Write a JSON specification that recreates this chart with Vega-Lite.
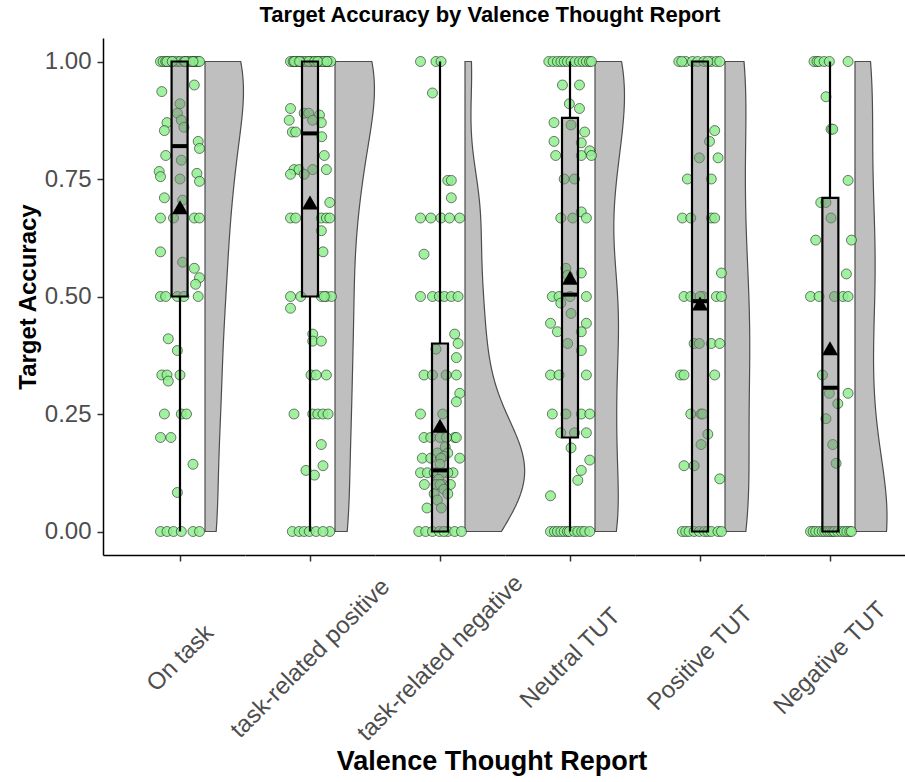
{
"$schema": "https://vega.github.io/schema/vega-lite/v6.json",
"padding": {"left": 16, "top": 4, "right": 0, "bottom": 0},
"config": {"font": "Liberation Sans", "view": {"stroke": null}, "axis": {"grid": false}},
"datasets": {
"pts": [
{"c":"On task","v":1,"j":-0.15},{"c":"On task","v":1,"j":-0.13},{"c":"On task","v":1,"j":-0.11},{"c":"On task","v":1,"j":-0.08},{"c":"On task","v":1,"j":-0.05},{"c":"On task","v":1,"j":-0.02},{"c":"On task","v":1,"j":0.0},{"c":"On task","v":1,"j":0.03},{"c":"On task","v":1,"j":0.05},{"c":"On task","v":1,"j":0.07},{"c":"On task","v":1,"j":0.09},{"c":"On task","v":1,"j":0.11},{"c":"On task","v":1,"j":0.12},{"c":"On task","v":1,"j":0.14},{"c":"On task","v":1,"j":0.15},{"c":"On task","v":1,"j":-0.1},{"c":"On task","v":1,"j":-0.06},{"c":"On task","v":1,"j":0.04},{"c":"On task","v":1,"j":0.1},
{"c":"On task","v":0.95,"j":0.11},{"c":"On task","v":0.936,"j":-0.14},{"c":"On task","v":0.91,"j":0.0},{"c":"On task","v":0.89,"j":-0.02},{"c":"On task","v":0.875,"j":0.01},{"c":"On task","v":0.86,"j":0.03},{"c":"On task","v":0.87,"j":-0.1},{"c":"On task","v":0.853,"j":-0.12},{"c":"On task","v":0.83,"j":0.14},{"c":"On task","v":0.815,"j":0.15},{"c":"On task","v":0.8,"j":-0.11},{"c":"On task","v":0.79,"j":0.01},{"c":"On task","v":0.766,"j":-0.16},{"c":"On task","v":0.755,"j":-0.15},{"c":"On task","v":0.762,"j":0.13},{"c":"On task","v":0.745,"j":0.15},{"c":"On task","v":0.75,"j":0.0},{"c":"On task","v":0.71,"j":-0.12},{"c":"On task","v":0.705,"j":0.02},
{"c":"On task","v":0.667,"j":-0.15},{"c":"On task","v":0.667,"j":-0.05},{"c":"On task","v":0.667,"j":0.11},{"c":"On task","v":0.667,"j":0.15},{"c":"On task","v":0.595,"j":-0.15},{"c":"On task","v":0.573,"j":0.02},{"c":"On task","v":0.56,"j":0.11},{"c":"On task","v":0.54,"j":0.15},{"c":"On task","v":0.526,"j":0.12},
{"c":"On task","v":0.5,"j":-0.15},{"c":"On task","v":0.5,"j":-0.11},{"c":"On task","v":0.5,"j":-0.02},{"c":"On task","v":0.5,"j":0.03},{"c":"On task","v":0.5,"j":0.14},
{"c":"On task","v":0.41,"j":-0.09},{"c":"On task","v":0.385,"j":-0.02},{"c":"On task","v":0.333,"j":-0.14},{"c":"On task","v":0.333,"j":-0.1},{"c":"On task","v":0.333,"j":0.0},{"c":"On task","v":0.32,"j":-0.09},
{"c":"On task","v":0.25,"j":-0.12},{"c":"On task","v":0.25,"j":0.01},{"c":"On task","v":0.25,"j":0.05},{"c":"On task","v":0.2,"j":-0.15},{"c":"On task","v":0.2,"j":-0.07},{"c":"On task","v":0.143,"j":0.1},{"c":"On task","v":0.083,"j":-0.02},
{"c":"On task","v":0,"j":-0.15},{"c":"On task","v":0,"j":-0.1},{"c":"On task","v":0,"j":-0.05},{"c":"On task","v":0,"j":0.01},{"c":"On task","v":0,"j":0.1},{"c":"On task","v":0,"j":0.15},

{"c":"task-related positive","v":1,"j":-0.15},{"c":"task-related positive","v":1,"j":-0.13},{"c":"task-related positive","v":1,"j":-0.11},{"c":"task-related positive","v":1,"j":-0.09},{"c":"task-related positive","v":1,"j":-0.07},{"c":"task-related positive","v":1,"j":-0.05},{"c":"task-related positive","v":1,"j":-0.03},{"c":"task-related positive","v":1,"j":0.0},{"c":"task-related positive","v":1,"j":0.02},{"c":"task-related positive","v":1,"j":0.05},{"c":"task-related positive","v":1,"j":0.07},{"c":"task-related positive","v":1,"j":0.09},{"c":"task-related positive","v":1,"j":0.12},{"c":"task-related positive","v":1,"j":0.14},{"c":"task-related positive","v":1,"j":0.16},{"c":"task-related positive","v":1,"j":-0.01},{"c":"task-related positive","v":1,"j":0.035},{"c":"task-related positive","v":1,"j":-0.12},{"c":"task-related positive","v":1,"j":0.105},{"c":"task-related positive","v":1,"j":-0.08},{"c":"task-related positive","v":1,"j":0.06},{"c":"task-related positive","v":1,"j":0.13},
{"c":"task-related positive","v":0.9,"j":-0.15},{"c":"task-related positive","v":0.89,"j":-0.045},{"c":"task-related positive","v":0.886,"j":0.073},{"c":"task-related positive","v":0.875,"j":-0.16},{"c":"task-related positive","v":0.87,"j":0.087},{"c":"task-related positive","v":0.85,"j":-0.136},{"c":"task-related positive","v":0.85,"j":-0.11},{"c":"task-related positive","v":0.84,"j":0.09},{"c":"task-related positive","v":0.89,"j":-0.01},{"c":"task-related positive","v":0.875,"j":0.02},
{"c":"task-related positive","v":0.8,"j":0.11},{"c":"task-related positive","v":0.77,"j":-0.123},{"c":"task-related positive","v":0.77,"j":-0.084},{"c":"task-related positive","v":0.77,"j":0.021},{"c":"task-related positive","v":0.77,"j":0.126},{"c":"task-related positive","v":0.76,"j":-0.15},{"c":"task-related positive","v":0.76,"j":-0.045},{"c":"task-related positive","v":0.7,"j":0.152},
{"c":"task-related positive","v":0.667,"j":-0.15},{"c":"task-related positive","v":0.667,"j":-0.11},{"c":"task-related positive","v":0.667,"j":0.087},{"c":"task-related positive","v":0.667,"j":0.126},{"c":"task-related positive","v":0.667,"j":0.152},{"c":"task-related positive","v":0.64,"j":0.087},{"c":"task-related positive","v":0.595,"j":0.1},
{"c":"task-related positive","v":0.5,"j":-0.15},{"c":"task-related positive","v":0.5,"j":-0.071},{"c":"task-related positive","v":0.5,"j":0.087},{"c":"task-related positive","v":0.5,"j":0.126},{"c":"task-related positive","v":0.5,"j":0.165},{"c":"task-related positive","v":0.5,"j":0.11},{"c":"task-related positive","v":0.475,"j":-0.15},
{"c":"task-related positive","v":0.42,"j":0.021},{"c":"task-related positive","v":0.405,"j":0.021},{"c":"task-related positive","v":0.405,"j":0.087},{"c":"task-related positive","v":0.333,"j":0.008},{"c":"task-related positive","v":0.333,"j":0.047},{"c":"task-related positive","v":0.333,"j":0.126},
{"c":"task-related positive","v":0.25,"j":-0.123},{"c":"task-related positive","v":0.25,"j":0.021},{"c":"task-related positive","v":0.25,"j":0.06},{"c":"task-related positive","v":0.25,"j":0.1},{"c":"task-related positive","v":0.25,"j":0.139},{"c":"task-related positive","v":0.185,"j":0.087},{"c":"task-related positive","v":0.14,"j":0.1},{"c":"task-related positive","v":0.13,"j":-0.031},{"c":"task-related positive","v":0.12,"j":0.034},
{"c":"task-related positive","v":0,"j":-0.136},{"c":"task-related positive","v":0,"j":-0.084},{"c":"task-related positive","v":0,"j":-0.045},{"c":"task-related positive","v":0,"j":-0.005},{"c":"task-related positive","v":0,"j":0.047},{"c":"task-related positive","v":0,"j":0.152},{"c":"task-related positive","v":0,"j":0.1},

{"c":"task-related negative","v":1,"j":-0.15},{"c":"task-related negative","v":1,"j":-0.031},{"c":"task-related negative","v":1,"j":0.008},{"c":"task-related negative","v":0.933,"j":-0.058},
{"c":"task-related negative","v":0.747,"j":0.06},{"c":"task-related negative","v":0.747,"j":0.087},{"c":"task-related negative","v":0.71,"j":0.087},
{"c":"task-related negative","v":0.667,"j":-0.15},{"c":"task-related negative","v":0.667,"j":-0.071},{"c":"task-related negative","v":0.667,"j":0.008},{"c":"task-related negative","v":0.667,"j":0.073},{"c":"task-related negative","v":0.667,"j":0.152},{"c":"task-related negative","v":0.59,"j":-0.123},
{"c":"task-related negative","v":0.5,"j":-0.15},{"c":"task-related negative","v":0.5,"j":-0.058},{"c":"task-related negative","v":0.5,"j":-0.005},{"c":"task-related negative","v":0.5,"j":0.034},{"c":"task-related negative","v":0.5,"j":0.087},{"c":"task-related negative","v":0.5,"j":0.139},
{"c":"task-related negative","v":0.42,"j":0.113},{"c":"task-related negative","v":0.4,"j":0.139},{"c":"task-related negative","v":0.388,"j":-0.031},{"c":"task-related negative","v":0.37,"j":0.126},
{"c":"task-related negative","v":0.333,"j":-0.123},{"c":"task-related negative","v":0.333,"j":-0.058},{"c":"task-related negative","v":0.333,"j":0.047},{"c":"task-related negative","v":0.333,"j":0.126},{"c":"task-related negative","v":0.294,"j":0.152},{"c":"task-related negative","v":0.276,"j":0.126},
{"c":"task-related negative","v":0.25,"j":-0.15},{"c":"task-related negative","v":0.25,"j":0.021},
{"c":"task-related negative","v":0.2,"j":-0.123},{"c":"task-related negative","v":0.2,"j":-0.071},{"c":"task-related negative","v":0.2,"j":0.113},{"c":"task-related negative","v":0.2,"j":0.126},{"c":"task-related negative","v":0.2,"j":0.0},{"c":"task-related negative","v":0.2,"j":0.05},{"c":"task-related negative","v":0.18,"j":0.04},
{"c":"task-related negative","v":0.167,"j":-0.02},{"c":"task-related negative","v":0.167,"j":0.06},{"c":"task-related negative","v":0.16,"j":0.03},
{"c":"task-related negative","v":0.156,"j":-0.136},{"c":"task-related negative","v":0.156,"j":-0.071},{"c":"task-related negative","v":0.156,"j":0.152},{"c":"task-related negative","v":0.156,"j":0.008},{"c":"task-related negative","v":0.143,"j":0.0},
{"c":"task-related negative","v":0.125,"j":-0.15},{"c":"task-related negative","v":0.125,"j":-0.097},{"c":"task-related negative","v":0.125,"j":-0.045},{"c":"task-related negative","v":0.125,"j":-0.018},{"c":"task-related negative","v":0.125,"j":0.1},{"c":"task-related negative","v":0.125,"j":0.06},{"c":"task-related negative","v":0.125,"j":0.02},{"c":"task-related negative","v":0.111,"j":-0.01},
{"c":"task-related negative","v":0.1,"j":-0.12},{"c":"task-related negative","v":0.1,"j":-0.03},{"c":"task-related negative","v":0.1,"j":0.02},{"c":"task-related negative","v":0.1,"j":0.08},{"c":"task-related negative","v":0.1,"j":0.0},{"c":"task-related negative","v":0.09,"j":0.03},
{"c":"task-related negative","v":0.08,"j":-0.045},{"c":"task-related negative","v":0.08,"j":0.06},{"c":"task-related negative","v":0.067,"j":-0.02},{"c":"task-related negative","v":0.05,"j":-0.1},{"c":"task-related negative","v":0.05,"j":0.01},
{"c":"task-related negative","v":0,"j":-0.163},{"c":"task-related negative","v":0,"j":-0.11},{"c":"task-related negative","v":0,"j":-0.058},{"c":"task-related negative","v":0,"j":-0.005},{"c":"task-related negative","v":0,"j":0.06},{"c":"task-related negative","v":0,"j":0.113},{"c":"task-related negative","v":0,"j":0.165},{"c":"task-related negative","v":0,"j":0.03},

{"c":"Neutral TUT","v":1,"j":-0.163},{"c":"Neutral TUT","v":1,"j":-0.13},{"c":"Neutral TUT","v":1,"j":-0.097},{"c":"Neutral TUT","v":1,"j":-0.07},{"c":"Neutral TUT","v":1,"j":-0.045},{"c":"Neutral TUT","v":1,"j":-0.02},{"c":"Neutral TUT","v":1,"j":0.008},{"c":"Neutral TUT","v":1,"j":0.04},{"c":"Neutral TUT","v":1,"j":0.073},{"c":"Neutral TUT","v":1,"j":0.1},{"c":"Neutral TUT","v":1,"j":0.126},{"c":"Neutral TUT","v":1,"j":0.15},{"c":"Neutral TUT","v":1,"j":0.165},
{"c":"Neutral TUT","v":0.95,"j":-0.058},{"c":"Neutral TUT","v":0.95,"j":0.073},{"c":"Neutral TUT","v":0.91,"j":-0.005},{"c":"Neutral TUT","v":0.9,"j":0.073},
{"c":"Neutral TUT","v":0.87,"j":-0.123},{"c":"Neutral TUT","v":0.865,"j":0.008},{"c":"Neutral TUT","v":0.85,"j":0.113},{"c":"Neutral TUT","v":0.83,"j":-0.123},{"c":"Neutral TUT","v":0.827,"j":0.087},
{"c":"Neutral TUT","v":0.8,"j":-0.11},{"c":"Neutral TUT","v":0.8,"j":0.087},{"c":"Neutral TUT","v":0.81,"j":0.152},{"c":"Neutral TUT","v":0.8,"j":0.165},{"c":"Neutral TUT","v":0.75,"j":-0.045},{"c":"Neutral TUT","v":0.75,"j":0.034},
{"c":"Neutral TUT","v":0.68,"j":0.087},{"c":"Neutral TUT","v":0.667,"j":-0.071},{"c":"Neutral TUT","v":0.667,"j":0.021},{"c":"Neutral TUT","v":0.667,"j":0.126},
{"c":"Neutral TUT","v":0.56,"j":-0.031},{"c":"Neutral TUT","v":0.55,"j":0.087},{"c":"Neutral TUT","v":0.545,"j":-0.018},
{"c":"Neutral TUT","v":0.5,"j":-0.136},{"c":"Neutral TUT","v":0.5,"j":-0.084},{"c":"Neutral TUT","v":0.5,"j":0.126},{"c":"Neutral TUT","v":0.5,"j":0.0},
{"c":"Neutral TUT","v":0.486,"j":-0.071},{"c":"Neutral TUT","v":0.464,"j":0.008},{"c":"Neutral TUT","v":0.443,"j":-0.15},{"c":"Neutral TUT","v":0.443,"j":0.126},{"c":"Neutral TUT","v":0.425,"j":-0.097},{"c":"Neutral TUT","v":0.425,"j":0.087},{"c":"Neutral TUT","v":0.4,"j":-0.018},{"c":"Neutral TUT","v":0.385,"j":0.087},
{"c":"Neutral TUT","v":0.333,"j":-0.15},{"c":"Neutral TUT","v":0.333,"j":-0.084},{"c":"Neutral TUT","v":0.333,"j":0.126},
{"c":"Neutral TUT","v":0.25,"j":-0.136},{"c":"Neutral TUT","v":0.25,"j":0.087},{"c":"Neutral TUT","v":0.25,"j":0.152},{"c":"Neutral TUT","v":0.25,"j":-0.031},
{"c":"Neutral TUT","v":0.21,"j":-0.071},{"c":"Neutral TUT","v":0.21,"j":0.034},{"c":"Neutral TUT","v":0.21,"j":0.126},{"c":"Neutral TUT","v":0.178,"j":0.008},
{"c":"Neutral TUT","v":0.152,"j":0.152},{"c":"Neutral TUT","v":0.13,"j":0.087},{"c":"Neutral TUT","v":0.109,"j":0.06},{"c":"Neutral TUT","v":0.076,"j":-0.15},
{"c":"Neutral TUT","v":0,"j":-0.15},{"c":"Neutral TUT","v":0,"j":-0.12},{"c":"Neutral TUT","v":0,"j":-0.097},{"c":"Neutral TUT","v":0,"j":-0.07},{"c":"Neutral TUT","v":0,"j":-0.045},{"c":"Neutral TUT","v":0,"j":-0.02},{"c":"Neutral TUT","v":0,"j":-0.005},{"c":"Neutral TUT","v":0,"j":0.034},{"c":"Neutral TUT","v":0,"j":0.06},{"c":"Neutral TUT","v":0,"j":0.09},{"c":"Neutral TUT","v":0,"j":0.113},{"c":"Neutral TUT","v":0,"j":0.152},

{"c":"Positive TUT","v":1,"j":-0.163},{"c":"Positive TUT","v":1,"j":-0.11},{"c":"Positive TUT","v":1,"j":-0.058},{"c":"Positive TUT","v":1,"j":-0.018},{"c":"Positive TUT","v":1,"j":0.03},{"c":"Positive TUT","v":1,"j":0.087},{"c":"Positive TUT","v":1,"j":0.126},{"c":"Positive TUT","v":1,"j":0.152},{"c":"Positive TUT","v":1,"j":-0.14},{"c":"Positive TUT","v":1,"j":0.06},
{"c":"Positive TUT","v":0.853,"j":0.113},{"c":"Positive TUT","v":0.83,"j":0.073},{"c":"Positive TUT","v":0.795,"j":-0.005},{"c":"Positive TUT","v":0.795,"j":0.139},{"c":"Positive TUT","v":0.75,"j":-0.097},{"c":"Positive TUT","v":0.75,"j":0.087},
{"c":"Positive TUT","v":0.667,"j":-0.136},{"c":"Positive TUT","v":0.667,"j":-0.071},{"c":"Positive TUT","v":0.667,"j":0.087},{"c":"Positive TUT","v":0.667,"j":0.113},{"c":"Positive TUT","v":0.55,"j":0.165},
{"c":"Positive TUT","v":0.5,"j":-0.123},{"c":"Positive TUT","v":0.5,"j":-0.071},{"c":"Positive TUT","v":0.5,"j":0.021},{"c":"Positive TUT","v":0.5,"j":0.126},{"c":"Positive TUT","v":0.5,"j":0.165},{"c":"Positive TUT","v":0.5,"j":0.0},
{"c":"Positive TUT","v":0.4,"j":-0.045},{"c":"Positive TUT","v":0.4,"j":-0.005},{"c":"Positive TUT","v":0.4,"j":0.087},{"c":"Positive TUT","v":0.4,"j":0.152},
{"c":"Positive TUT","v":0.333,"j":-0.15},{"c":"Positive TUT","v":0.333,"j":-0.123},{"c":"Positive TUT","v":0.333,"j":0.113},
{"c":"Positive TUT","v":0.25,"j":-0.071},{"c":"Positive TUT","v":0.25,"j":0.008},{"c":"Positive TUT","v":0.25,"j":0.021},{"c":"Positive TUT","v":0.207,"j":0.06},{"c":"Positive TUT","v":0.185,"j":0.008},
{"c":"Positive TUT","v":0.14,"j":-0.123},{"c":"Positive TUT","v":0.14,"j":-0.045},{"c":"Positive TUT","v":0.112,"j":0.152},
{"c":"Positive TUT","v":0,"j":-0.136},{"c":"Positive TUT","v":0,"j":-0.11},{"c":"Positive TUT","v":0,"j":-0.084},{"c":"Positive TUT","v":0,"j":-0.045},{"c":"Positive TUT","v":0,"j":-0.005},{"c":"Positive TUT","v":0,"j":0.034},{"c":"Positive TUT","v":0,"j":0.06},{"c":"Positive TUT","v":0,"j":0.087},{"c":"Positive TUT","v":0,"j":0.139},{"c":"Positive TUT","v":0,"j":0.165},

{"c":"Negative TUT","v":1,"j":-0.123},{"c":"Negative TUT","v":1,"j":-0.1},{"c":"Negative TUT","v":1,"j":-0.084},{"c":"Negative TUT","v":1,"j":-0.045},{"c":"Negative TUT","v":1,"j":-0.005},{"c":"Negative TUT","v":1,"j":0.139},
{"c":"Negative TUT","v":0.925,"j":-0.031},{"c":"Negative TUT","v":0.856,"j":0.008},{"c":"Negative TUT","v":0.856,"j":0.021},{"c":"Negative TUT","v":0.747,"j":0.139},
{"c":"Negative TUT","v":0.7,"j":-0.071},{"c":"Negative TUT","v":0.7,"j":-0.031},{"c":"Negative TUT","v":0.667,"j":0.008},{"c":"Negative TUT","v":0.62,"j":-0.11},{"c":"Negative TUT","v":0.62,"j":0.165},{"c":"Negative TUT","v":0.548,"j":0.126},
{"c":"Negative TUT","v":0.5,"j":-0.15},{"c":"Negative TUT","v":0.5,"j":-0.084},{"c":"Negative TUT","v":0.5,"j":0.034},{"c":"Negative TUT","v":0.5,"j":0.1},{"c":"Negative TUT","v":0.5,"j":0.139},
{"c":"Negative TUT","v":0.333,"j":-0.058},{"c":"Negative TUT","v":0.294,"j":-0.005},{"c":"Negative TUT","v":0.294,"j":0.139},{"c":"Negative TUT","v":0.272,"j":0.06},{"c":"Negative TUT","v":0.24,"j":-0.031},{"c":"Negative TUT","v":0.185,"j":0.021},{"c":"Negative TUT","v":0.145,"j":0.047},
{"c":"Negative TUT","v":0,"j":-0.15},{"c":"Negative TUT","v":0,"j":-0.13},{"c":"Negative TUT","v":0,"j":-0.11},{"c":"Negative TUT","v":0,"j":-0.084},{"c":"Negative TUT","v":0,"j":-0.06},{"c":"Negative TUT","v":0,"j":-0.04},{"c":"Negative TUT","v":0,"j":-0.018},{"c":"Negative TUT","v":0,"j":0.0},{"c":"Negative TUT","v":0,"j":0.02},{"c":"Negative TUT","v":0,"j":0.034},{"c":"Negative TUT","v":0,"j":0.06},{"c":"Negative TUT","v":0,"j":0.087},{"c":"Negative TUT","v":0,"j":0.11},{"c":"Negative TUT","v":0,"j":0.13},{"c":"Negative TUT","v":0,"j":0.152},{"c":"Negative TUT","v":0,"j":0.165}
],
"box": [
{"c":"On task","lower":0,"q1":0.5,"median":0.82,"q3":1,"upper":1,"mean":0.69},
{"c":"task-related positive","lower":0,"q1":0.5,"median":0.847,"q3":1,"upper":1,"mean":0.70},
{"c":"task-related negative","lower":0,"q1":0,"median":0.13,"q3":0.4,"upper":1,"mean":0.225},
{"c":"Neutral TUT","lower":0,"q1":0.2,"median":0.504,"q3":0.88,"upper":1,"mean":0.54},
{"c":"Positive TUT","lower":0,"q1":0,"median":0.49,"q3":1,"upper":1,"mean":0.485},
{"c":"Negative TUT","lower":0,"q1":0,"median":0.306,"q3":0.71,"upper":1,"mean":0.39}
]
},
"title": {"text": "Valence Thought Report", "orient": "bottom", "anchor": "middle", "frame": "group", "dx": 389, "fontSize": 27, "fontWeight": "bold", "color": "black", "offset": 4},
"vconcat": [{
"title": {"text": "Target Accuracy by Valence Thought Report", "anchor": "middle", "frame": "group", "dx": 387, "fontSize": 22, "fontWeight": "bold", "color": "black", "offset": 11},
"spacing": 0,
"bounds": "flush",
"resolve": {"scale": {"x": "independent", "y": "independent"}},
"hconcat": [
{"width": 142, "height": 517, "resolve": {"scale": {"x": "independent"}},
"layer": [
{"data": {"name": "pts"}, "transform": [{"filter": {"field": "c", "equal": "On task"}}, {"density": "v", "bandwidth": 0.12, "extent": [0, 1], "steps": 150}],
"mark": {"type": "area", "orient": "horizontal", "fill": "#808080", "fillOpacity": 0.5, "stroke": "#4D4D4D", "strokeWidth": 1.2},
"encoding": {"y": {"field": "value", "type": "quantitative", "scale": {"domain": [-0.05, 1.05], "nice": false, "zero": false}, "axis": {"values": [0, 0.25, 0.5, 0.75, 1], "format": ".2f", "title": "Target Accuracy", "titleFontSize": 24, "titleFontWeight": "bold", "titleColor": "black", "titlePadding": 4, "labelFontSize": 24, "labelColor": "#4D4D4D", "labelPadding": 6, "tickSize": 6, "tickColor": "#333333", "tickWidth": 1.5, "domainColor": "black", "domainWidth": 1.5}},
"x": {"field": "density", "type": "quantitative", "scale": {"domain": [-3.517, 1.379], "nice": false, "zero": false}, "axis": null}, "x2": {"datum": 0}}},
{"data": {"name": "pts"}, "transform": [{"filter": {"field": "c", "equal": "On task"}}],
"mark": {"type": "circle", "size": 100, "fill": "#90EE90", "fillOpacity": 0.85, "stroke": "black", "strokeOpacity": 0.5, "strokeWidth": 1},
"encoding": {"x": {"field": "j", "type": "quantitative", "scale": {"domain": [-0.5923, 0.5], "nice": false, "zero": false}, "axis": {"values": [0], "labels": false, "tickSize": 6, "tickColor": "#333333", "tickWidth": 1.5, "domainColor": "black", "domainWidth": 1.5, "title": "On task", "titleAngle": 315, "titleAlign": "center", "titleBaseline": "middle", "titleX": 77, "titleY": 103, "titleFontSize": 24, "titleFontWeight": "normal", "titleColor": "#4D4D4D"}}, "y": {"field": "v", "type": "quantitative", "axis": {"values": [0, 0.25, 0.5, 0.75, 1], "format": ".2f", "title": "Target Accuracy", "titleFontSize": 24, "titleFontWeight": "bold", "titleColor": "black", "titlePadding": 4, "labelFontSize": 24, "labelColor": "#4D4D4D", "labelPadding": 6, "tickSize": 6, "tickColor": "#333333", "tickWidth": 1.5, "domainColor": "black", "domainWidth": 1.5}}}},
{"data": {"name": "box"}, "transform": [{"filter": {"field": "c", "equal": "On task"}}], "mark": {"type": "rule", "color": "black", "strokeWidth": 2.2}, "encoding": {"x": {"datum": 0, "scale": {"domain": [-0.5923, 0.5], "nice": false, "zero": false}, "axis": null}, "y": {"field": "lower", "type": "quantitative", "axis": {"values": [0, 0.25, 0.5, 0.75, 1], "format": ".2f", "title": "Target Accuracy", "titleFontSize": 24, "titleFontWeight": "bold", "titleColor": "black", "titlePadding": 4, "labelFontSize": 24, "labelColor": "#4D4D4D", "labelPadding": 6, "tickSize": 6, "tickColor": "#333333", "tickWidth": 1.5, "domainColor": "black", "domainWidth": 1.5}}, "y2": {"field": "q1"}}},
{"data": {"name": "box"}, "transform": [{"filter": {"field": "c", "equal": "On task"}}], "mark": {"type": "rule", "color": "black", "strokeWidth": 2.2}, "encoding": {"x": {"datum": 0, "scale": {"domain": [-0.5923, 0.5], "nice": false, "zero": false}, "axis": null}, "y": {"field": "q3", "type": "quantitative", "axis": {"values": [0, 0.25, 0.5, 0.75, 1], "format": ".2f", "title": "Target Accuracy", "titleFontSize": 24, "titleFontWeight": "bold", "titleColor": "black", "titlePadding": 4, "labelFontSize": 24, "labelColor": "#4D4D4D", "labelPadding": 6, "tickSize": 6, "tickColor": "#333333", "tickWidth": 1.5, "domainColor": "black", "domainWidth": 1.5}}, "y2": {"field": "upper"}}},
{"data": {"name": "box"}, "transform": [{"filter": {"field": "c", "equal": "On task"}}], "mark": {"type": "bar", "width": 16, "fill": "#808080", "fillOpacity": 0.5, "stroke": "black", "strokeWidth": 2.2}, "encoding": {"x": {"datum": 0, "scale": {"domain": [-0.5923, 0.5], "nice": false, "zero": false}, "axis": null}, "y": {"field": "q1", "type": "quantitative", "axis": {"values": [0, 0.25, 0.5, 0.75, 1], "format": ".2f", "title": "Target Accuracy", "titleFontSize": 24, "titleFontWeight": "bold", "titleColor": "black", "titlePadding": 4, "labelFontSize": 24, "labelColor": "#4D4D4D", "labelPadding": 6, "tickSize": 6, "tickColor": "#333333", "tickWidth": 1.5, "domainColor": "black", "domainWidth": 1.5}}, "y2": {"field": "q3"}}},
{"data": {"name": "box"}, "transform": [{"filter": {"field": "c", "equal": "On task"}}], "mark": {"type": "tick", "orient": "horizontal", "size": 16, "thickness": 4, "color": "black", "opacity": 1}, "encoding": {"x": {"datum": 0, "scale": {"domain": [-0.5923, 0.5], "nice": false, "zero": false}, "axis": null}, "y": {"field": "median", "type": "quantitative", "axis": {"values": [0, 0.25, 0.5, 0.75, 1], "format": ".2f", "title": "Target Accuracy", "titleFontSize": 24, "titleFontWeight": "bold", "titleColor": "black", "titlePadding": 4, "labelFontSize": 24, "labelColor": "#4D4D4D", "labelPadding": 6, "tickSize": 6, "tickColor": "#333333", "tickWidth": 1.5, "domainColor": "black", "domainWidth": 1.5}}}},
{"data": {"name": "box"}, "transform": [{"filter": {"field": "c", "equal": "On task"}}], "mark": {"type": "point", "shape": "triangle-up", "filled": true, "size": 260, "color": "black", "opacity": 1}, "encoding": {"x": {"datum": 0, "scale": {"domain": [-0.5923, 0.5], "nice": false, "zero": false}, "axis": null}, "y": {"field": "mean", "type": "quantitative", "axis": {"values": [0, 0.25, 0.5, 0.75, 1], "format": ".2f", "title": "Target Accuracy", "titleFontSize": 24, "titleFontWeight": "bold", "titleColor": "black", "titlePadding": 4, "labelFontSize": 24, "labelColor": "#4D4D4D", "labelPadding": 6, "tickSize": 6, "tickColor": "#333333", "tickWidth": 1.5, "domainColor": "black", "domainWidth": 1.5}}}}
]},
{"width": 130, "height": 517, "resolve": {"scale": {"x": "independent"}},
"layer": [
{"data": {"name": "pts"}, "transform": [{"filter": {"field": "c", "equal": "task-related positive"}}, {"density": "v", "bandwidth": 0.12, "extent": [0, 1], "steps": 150}],
"mark": {"type": "area", "orient": "horizontal", "fill": "#808080", "fillOpacity": 0.5, "stroke": "#4D4D4D", "strokeWidth": 1.2},
"encoding": {"y": {"field": "value", "type": "quantitative", "scale": {"domain": [-0.05, 1.05], "nice": false, "zero": false}, "axis": null},
"x": {"field": "density", "type": "quantitative", "scale": {"domain": [-3.103, 1.379], "nice": false, "zero": false}, "axis": null}, "x2": {"datum": 0}}},
{"data": {"name": "pts"}, "transform": [{"filter": {"field": "c", "equal": "task-related positive"}}],
"mark": {"type": "circle", "size": 100, "fill": "#90EE90", "fillOpacity": 0.85, "stroke": "black", "strokeOpacity": 0.5, "strokeWidth": 1},
"encoding": {"x": {"field": "j", "type": "quantitative", "scale": {"domain": [-0.5, 0.5], "nice": false, "zero": false}, "axis": {"values": [0], "labels": false, "tickSize": 6, "tickColor": "#333333", "tickWidth": 1.5, "domainColor": "black", "domainWidth": 1.5, "title": "task-related positive", "titleAngle": 315, "titleAlign": "center", "titleBaseline": "middle", "titleX": 65, "titleY": 103, "titleFontSize": 24, "titleFontWeight": "normal", "titleColor": "#4D4D4D"}}, "y": {"field": "v", "type": "quantitative", "axis": null}}},
{"data": {"name": "box"}, "transform": [{"filter": {"field": "c", "equal": "task-related positive"}}], "mark": {"type": "rule", "color": "black", "strokeWidth": 2.2}, "encoding": {"x": {"datum": 0, "scale": {"domain": [-0.5, 0.5], "nice": false, "zero": false}, "axis": null}, "y": {"field": "lower", "type": "quantitative", "axis": null}, "y2": {"field": "q1"}}},
{"data": {"name": "box"}, "transform": [{"filter": {"field": "c", "equal": "task-related positive"}}], "mark": {"type": "rule", "color": "black", "strokeWidth": 2.2}, "encoding": {"x": {"datum": 0, "scale": {"domain": [-0.5, 0.5], "nice": false, "zero": false}, "axis": null}, "y": {"field": "q3", "type": "quantitative", "axis": null}, "y2": {"field": "upper"}}},
{"data": {"name": "box"}, "transform": [{"filter": {"field": "c", "equal": "task-related positive"}}], "mark": {"type": "bar", "width": 16, "fill": "#808080", "fillOpacity": 0.5, "stroke": "black", "strokeWidth": 2.2}, "encoding": {"x": {"datum": 0, "scale": {"domain": [-0.5, 0.5], "nice": false, "zero": false}, "axis": null}, "y": {"field": "q1", "type": "quantitative", "axis": null}, "y2": {"field": "q3"}}},
{"data": {"name": "box"}, "transform": [{"filter": {"field": "c", "equal": "task-related positive"}}], "mark": {"type": "tick", "orient": "horizontal", "size": 16, "thickness": 4, "color": "black", "opacity": 1}, "encoding": {"x": {"datum": 0, "scale": {"domain": [-0.5, 0.5], "nice": false, "zero": false}, "axis": null}, "y": {"field": "median", "type": "quantitative", "axis": null}}},
{"data": {"name": "box"}, "transform": [{"filter": {"field": "c", "equal": "task-related positive"}}], "mark": {"type": "point", "shape": "triangle-up", "filled": true, "size": 260, "color": "black", "opacity": 1}, "encoding": {"x": {"datum": 0, "scale": {"domain": [-0.5, 0.5], "nice": false, "zero": false}, "axis": null}, "y": {"field": "mean", "type": "quantitative", "axis": null}}}
]},
{"width": 130, "height": 517, "resolve": {"scale": {"x": "independent"}},
"layer": [
{"data": {"name": "pts"}, "transform": [{"filter": {"field": "c", "equal": "task-related negative"}}, {"density": "v", "bandwidth": 0.095, "extent": [0, 1], "steps": 150}],
"mark": {"type": "area", "orient": "horizontal", "fill": "#808080", "fillOpacity": 0.5, "stroke": "#4D4D4D", "strokeWidth": 1.2},
"encoding": {"y": {"field": "value", "type": "quantitative", "scale": {"domain": [-0.05, 1.05], "nice": false, "zero": false}, "axis": null},
"x": {"field": "density", "type": "quantitative", "scale": {"domain": [-3.103, 1.379], "nice": false, "zero": false}, "axis": null}, "x2": {"datum": 0}}},
{"data": {"name": "pts"}, "transform": [{"filter": {"field": "c", "equal": "task-related negative"}}],
"mark": {"type": "circle", "size": 100, "fill": "#90EE90", "fillOpacity": 0.85, "stroke": "black", "strokeOpacity": 0.5, "strokeWidth": 1},
"encoding": {"x": {"field": "j", "type": "quantitative", "scale": {"domain": [-0.5, 0.5], "nice": false, "zero": false}, "axis": {"values": [0], "labels": false, "tickSize": 6, "tickColor": "#333333", "tickWidth": 1.5, "domainColor": "black", "domainWidth": 1.5, "title": "task-related negative", "titleAngle": 315, "titleAlign": "center", "titleBaseline": "middle", "titleX": 65, "titleY": 103, "titleFontSize": 24, "titleFontWeight": "normal", "titleColor": "#4D4D4D"}}, "y": {"field": "v", "type": "quantitative", "axis": null}}},
{"data": {"name": "box"}, "transform": [{"filter": {"field": "c", "equal": "task-related negative"}}], "mark": {"type": "rule", "color": "black", "strokeWidth": 2.2}, "encoding": {"x": {"datum": 0, "scale": {"domain": [-0.5, 0.5], "nice": false, "zero": false}, "axis": null}, "y": {"field": "lower", "type": "quantitative", "axis": null}, "y2": {"field": "q1"}}},
{"data": {"name": "box"}, "transform": [{"filter": {"field": "c", "equal": "task-related negative"}}], "mark": {"type": "rule", "color": "black", "strokeWidth": 2.2}, "encoding": {"x": {"datum": 0, "scale": {"domain": [-0.5, 0.5], "nice": false, "zero": false}, "axis": null}, "y": {"field": "q3", "type": "quantitative", "axis": null}, "y2": {"field": "upper"}}},
{"data": {"name": "box"}, "transform": [{"filter": {"field": "c", "equal": "task-related negative"}}], "mark": {"type": "bar", "width": 16, "fill": "#808080", "fillOpacity": 0.5, "stroke": "black", "strokeWidth": 2.2}, "encoding": {"x": {"datum": 0, "scale": {"domain": [-0.5, 0.5], "nice": false, "zero": false}, "axis": null}, "y": {"field": "q1", "type": "quantitative", "axis": null}, "y2": {"field": "q3"}}},
{"data": {"name": "box"}, "transform": [{"filter": {"field": "c", "equal": "task-related negative"}}], "mark": {"type": "tick", "orient": "horizontal", "size": 16, "thickness": 4, "color": "black", "opacity": 1}, "encoding": {"x": {"datum": 0, "scale": {"domain": [-0.5, 0.5], "nice": false, "zero": false}, "axis": null}, "y": {"field": "median", "type": "quantitative", "axis": null}}},
{"data": {"name": "box"}, "transform": [{"filter": {"field": "c", "equal": "task-related negative"}}], "mark": {"type": "point", "shape": "triangle-up", "filled": true, "size": 260, "color": "black", "opacity": 1}, "encoding": {"x": {"datum": 0, "scale": {"domain": [-0.5, 0.5], "nice": false, "zero": false}, "axis": null}, "y": {"field": "mean", "type": "quantitative", "axis": null}}}
]},
{"width": 130, "height": 517, "resolve": {"scale": {"x": "independent"}},
"layer": [
{"data": {"name": "pts"}, "transform": [{"filter": {"field": "c", "equal": "Neutral TUT"}}, {"density": "v", "bandwidth": 0.115, "extent": [0, 1], "steps": 150}],
"mark": {"type": "area", "orient": "horizontal", "fill": "#808080", "fillOpacity": 0.5, "stroke": "#4D4D4D", "strokeWidth": 1.2},
"encoding": {"y": {"field": "value", "type": "quantitative", "scale": {"domain": [-0.05, 1.05], "nice": false, "zero": false}, "axis": null},
"x": {"field": "density", "type": "quantitative", "scale": {"domain": [-3.103, 1.379], "nice": false, "zero": false}, "axis": null}, "x2": {"datum": 0}}},
{"data": {"name": "pts"}, "transform": [{"filter": {"field": "c", "equal": "Neutral TUT"}}],
"mark": {"type": "circle", "size": 100, "fill": "#90EE90", "fillOpacity": 0.85, "stroke": "black", "strokeOpacity": 0.5, "strokeWidth": 1},
"encoding": {"x": {"field": "j", "type": "quantitative", "scale": {"domain": [-0.5, 0.5], "nice": false, "zero": false}, "axis": {"values": [0], "labels": false, "tickSize": 6, "tickColor": "#333333", "tickWidth": 1.5, "domainColor": "black", "domainWidth": 1.5, "title": "Neutral TUT", "titleAngle": 315, "titleAlign": "center", "titleBaseline": "middle", "titleX": 65, "titleY": 103, "titleFontSize": 24, "titleFontWeight": "normal", "titleColor": "#4D4D4D"}}, "y": {"field": "v", "type": "quantitative", "axis": null}}},
{"data": {"name": "box"}, "transform": [{"filter": {"field": "c", "equal": "Neutral TUT"}}], "mark": {"type": "rule", "color": "black", "strokeWidth": 2.2}, "encoding": {"x": {"datum": 0, "scale": {"domain": [-0.5, 0.5], "nice": false, "zero": false}, "axis": null}, "y": {"field": "lower", "type": "quantitative", "axis": null}, "y2": {"field": "q1"}}},
{"data": {"name": "box"}, "transform": [{"filter": {"field": "c", "equal": "Neutral TUT"}}], "mark": {"type": "rule", "color": "black", "strokeWidth": 2.2}, "encoding": {"x": {"datum": 0, "scale": {"domain": [-0.5, 0.5], "nice": false, "zero": false}, "axis": null}, "y": {"field": "q3", "type": "quantitative", "axis": null}, "y2": {"field": "upper"}}},
{"data": {"name": "box"}, "transform": [{"filter": {"field": "c", "equal": "Neutral TUT"}}], "mark": {"type": "bar", "width": 16, "fill": "#808080", "fillOpacity": 0.5, "stroke": "black", "strokeWidth": 2.2}, "encoding": {"x": {"datum": 0, "scale": {"domain": [-0.5, 0.5], "nice": false, "zero": false}, "axis": null}, "y": {"field": "q1", "type": "quantitative", "axis": null}, "y2": {"field": "q3"}}},
{"data": {"name": "box"}, "transform": [{"filter": {"field": "c", "equal": "Neutral TUT"}}], "mark": {"type": "tick", "orient": "horizontal", "size": 16, "thickness": 4, "color": "black", "opacity": 1}, "encoding": {"x": {"datum": 0, "scale": {"domain": [-0.5, 0.5], "nice": false, "zero": false}, "axis": null}, "y": {"field": "median", "type": "quantitative", "axis": null}}},
{"data": {"name": "box"}, "transform": [{"filter": {"field": "c", "equal": "Neutral TUT"}}], "mark": {"type": "point", "shape": "triangle-up", "filled": true, "size": 260, "color": "black", "opacity": 1}, "encoding": {"x": {"datum": 0, "scale": {"domain": [-0.5, 0.5], "nice": false, "zero": false}, "axis": null}, "y": {"field": "mean", "type": "quantitative", "axis": null}}}
]},
{"width": 130, "height": 517, "resolve": {"scale": {"x": "independent"}},
"layer": [
{"data": {"name": "pts"}, "transform": [{"filter": {"field": "c", "equal": "Positive TUT"}}, {"density": "v", "bandwidth": 0.15, "extent": [0, 1], "steps": 150}],
"mark": {"type": "area", "orient": "horizontal", "fill": "#808080", "fillOpacity": 0.5, "stroke": "#4D4D4D", "strokeWidth": 1.2},
"encoding": {"y": {"field": "value", "type": "quantitative", "scale": {"domain": [-0.05, 1.05], "nice": false, "zero": false}, "axis": null},
"x": {"field": "density", "type": "quantitative", "scale": {"domain": [-3.103, 1.379], "nice": false, "zero": false}, "axis": null}, "x2": {"datum": 0}}},
{"data": {"name": "pts"}, "transform": [{"filter": {"field": "c", "equal": "Positive TUT"}}],
"mark": {"type": "circle", "size": 100, "fill": "#90EE90", "fillOpacity": 0.85, "stroke": "black", "strokeOpacity": 0.5, "strokeWidth": 1},
"encoding": {"x": {"field": "j", "type": "quantitative", "scale": {"domain": [-0.5, 0.5], "nice": false, "zero": false}, "axis": {"values": [0], "labels": false, "tickSize": 6, "tickColor": "#333333", "tickWidth": 1.5, "domainColor": "black", "domainWidth": 1.5, "title": "Positive TUT", "titleAngle": 315, "titleAlign": "center", "titleBaseline": "middle", "titleX": 65, "titleY": 103, "titleFontSize": 24, "titleFontWeight": "normal", "titleColor": "#4D4D4D"}}, "y": {"field": "v", "type": "quantitative", "axis": null}}},
{"data": {"name": "box"}, "transform": [{"filter": {"field": "c", "equal": "Positive TUT"}}], "mark": {"type": "rule", "color": "black", "strokeWidth": 2.2}, "encoding": {"x": {"datum": 0, "scale": {"domain": [-0.5, 0.5], "nice": false, "zero": false}, "axis": null}, "y": {"field": "lower", "type": "quantitative", "axis": null}, "y2": {"field": "q1"}}},
{"data": {"name": "box"}, "transform": [{"filter": {"field": "c", "equal": "Positive TUT"}}], "mark": {"type": "rule", "color": "black", "strokeWidth": 2.2}, "encoding": {"x": {"datum": 0, "scale": {"domain": [-0.5, 0.5], "nice": false, "zero": false}, "axis": null}, "y": {"field": "q3", "type": "quantitative", "axis": null}, "y2": {"field": "upper"}}},
{"data": {"name": "box"}, "transform": [{"filter": {"field": "c", "equal": "Positive TUT"}}], "mark": {"type": "bar", "width": 16, "fill": "#808080", "fillOpacity": 0.5, "stroke": "black", "strokeWidth": 2.2}, "encoding": {"x": {"datum": 0, "scale": {"domain": [-0.5, 0.5], "nice": false, "zero": false}, "axis": null}, "y": {"field": "q1", "type": "quantitative", "axis": null}, "y2": {"field": "q3"}}},
{"data": {"name": "box"}, "transform": [{"filter": {"field": "c", "equal": "Positive TUT"}}], "mark": {"type": "tick", "orient": "horizontal", "size": 16, "thickness": 4, "color": "black", "opacity": 1}, "encoding": {"x": {"datum": 0, "scale": {"domain": [-0.5, 0.5], "nice": false, "zero": false}, "axis": null}, "y": {"field": "median", "type": "quantitative", "axis": null}}},
{"data": {"name": "box"}, "transform": [{"filter": {"field": "c", "equal": "Positive TUT"}}], "mark": {"type": "point", "shape": "triangle-up", "filled": true, "size": 260, "color": "black", "opacity": 1}, "encoding": {"x": {"datum": 0, "scale": {"domain": [-0.5, 0.5], "nice": false, "zero": false}, "axis": null}, "y": {"field": "mean", "type": "quantitative", "axis": null}}}
]},
{"width": 140, "height": 517, "resolve": {"scale": {"x": "independent"}},
"layer": [
{"data": {"name": "pts"}, "transform": [{"filter": {"field": "c", "equal": "Negative TUT"}}, {"density": "v", "bandwidth": 0.15, "extent": [0, 1], "steps": 150}],
"mark": {"type": "area", "orient": "horizontal", "fill": "#808080", "fillOpacity": 0.5, "stroke": "#4D4D4D", "strokeWidth": 1.2},
"encoding": {"y": {"field": "value", "type": "quantitative", "scale": {"domain": [-0.05, 1.05], "nice": false, "zero": false}, "axis": null},
"x": {"field": "density", "type": "quantitative", "scale": {"domain": [-3.103, 1.724], "nice": false, "zero": false}, "axis": null}, "x2": {"datum": 0}}},
{"data": {"name": "pts"}, "transform": [{"filter": {"field": "c", "equal": "Negative TUT"}}],
"mark": {"type": "circle", "size": 100, "fill": "#90EE90", "fillOpacity": 0.85, "stroke": "black", "strokeOpacity": 0.5, "strokeWidth": 1},
"encoding": {"x": {"field": "j", "type": "quantitative", "scale": {"domain": [-0.5, 0.5769], "nice": false, "zero": false}, "axis": {"values": [0], "labels": false, "tickSize": 6, "tickColor": "#333333", "tickWidth": 1.5, "domainColor": "black", "domainWidth": 1.5, "title": "Negative TUT", "titleAngle": 315, "titleAlign": "center", "titleBaseline": "middle", "titleX": 65, "titleY": 103, "titleFontSize": 24, "titleFontWeight": "normal", "titleColor": "#4D4D4D"}}, "y": {"field": "v", "type": "quantitative", "axis": null}}},
{"data": {"name": "box"}, "transform": [{"filter": {"field": "c", "equal": "Negative TUT"}}], "mark": {"type": "rule", "color": "black", "strokeWidth": 2.2}, "encoding": {"x": {"datum": 0, "scale": {"domain": [-0.5, 0.5769], "nice": false, "zero": false}, "axis": null}, "y": {"field": "lower", "type": "quantitative", "axis": null}, "y2": {"field": "q1"}}},
{"data": {"name": "box"}, "transform": [{"filter": {"field": "c", "equal": "Negative TUT"}}], "mark": {"type": "rule", "color": "black", "strokeWidth": 2.2}, "encoding": {"x": {"datum": 0, "scale": {"domain": [-0.5, 0.5769], "nice": false, "zero": false}, "axis": null}, "y": {"field": "q3", "type": "quantitative", "axis": null}, "y2": {"field": "upper"}}},
{"data": {"name": "box"}, "transform": [{"filter": {"field": "c", "equal": "Negative TUT"}}], "mark": {"type": "bar", "width": 16, "fill": "#808080", "fillOpacity": 0.5, "stroke": "black", "strokeWidth": 2.2}, "encoding": {"x": {"datum": 0, "scale": {"domain": [-0.5, 0.5769], "nice": false, "zero": false}, "axis": null}, "y": {"field": "q1", "type": "quantitative", "axis": null}, "y2": {"field": "q3"}}},
{"data": {"name": "box"}, "transform": [{"filter": {"field": "c", "equal": "Negative TUT"}}], "mark": {"type": "tick", "orient": "horizontal", "size": 16, "thickness": 4, "color": "black", "opacity": 1}, "encoding": {"x": {"datum": 0, "scale": {"domain": [-0.5, 0.5769], "nice": false, "zero": false}, "axis": null}, "y": {"field": "median", "type": "quantitative", "axis": null}}},
{"data": {"name": "box"}, "transform": [{"filter": {"field": "c", "equal": "Negative TUT"}}], "mark": {"type": "point", "shape": "triangle-up", "filled": true, "size": 260, "color": "black", "opacity": 1}, "encoding": {"x": {"datum": 0, "scale": {"domain": [-0.5, 0.5769], "nice": false, "zero": false}, "axis": null}, "y": {"field": "mean", "type": "quantitative", "axis": null}}}
]}
]
}]
}
